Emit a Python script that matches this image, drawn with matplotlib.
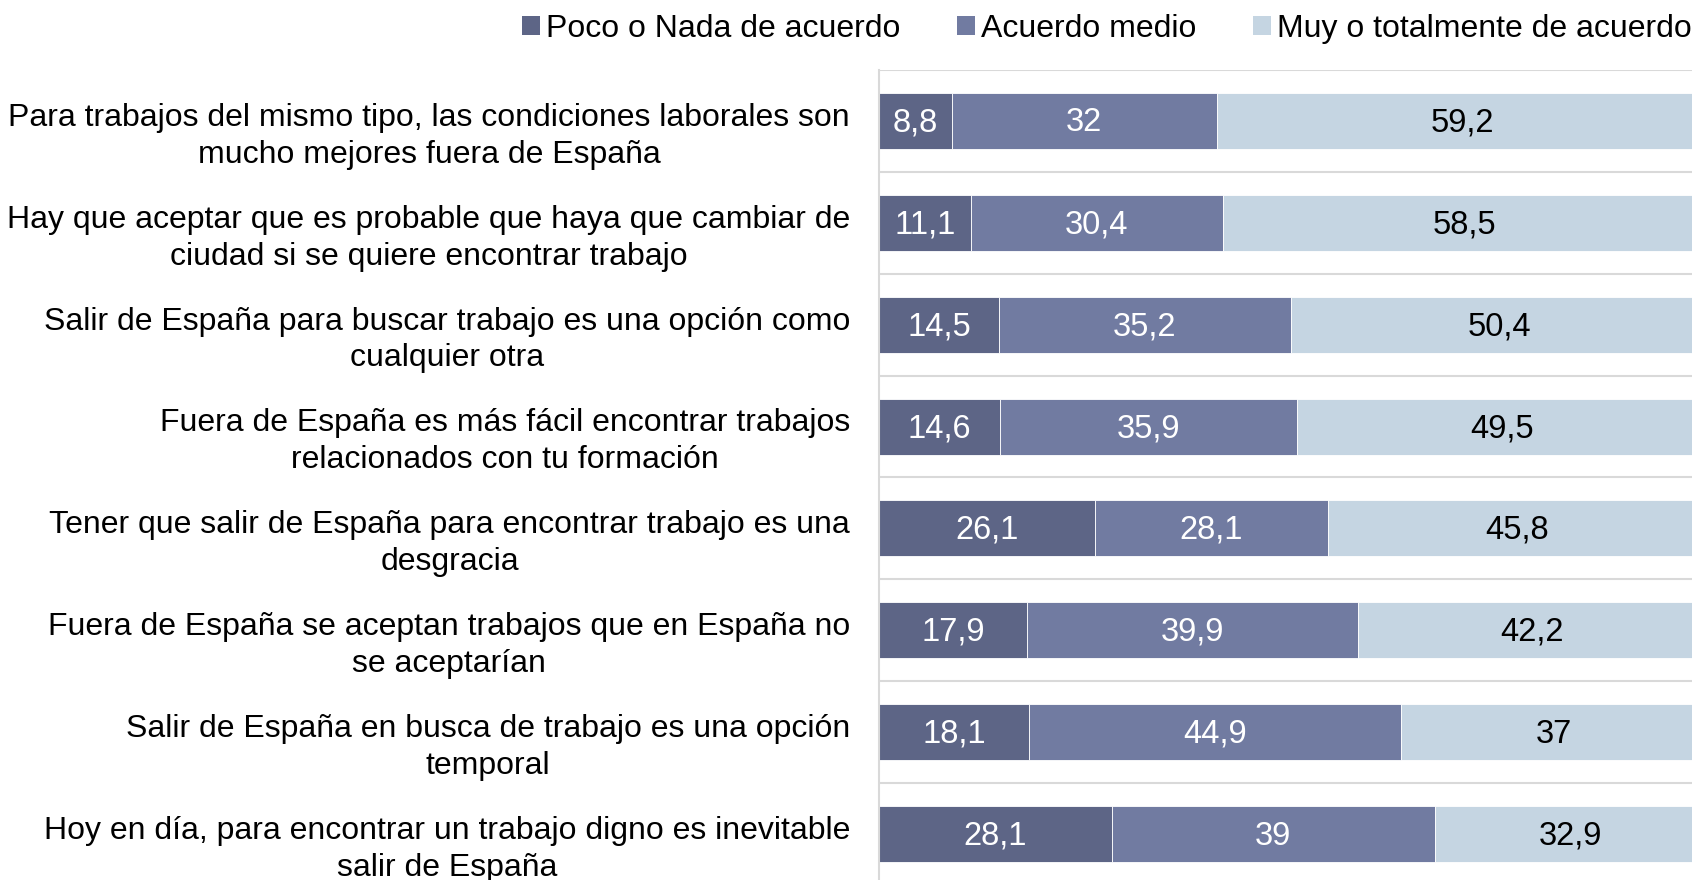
import numpy as np
import matplotlib.pyplot as plt
from matplotlib.patches import Patch

plt.rcParams['font.family'] = ['Liberation Sans', 'DejaVu Sans']

labels = [
    "Para trabajos del mismo tipo, las condiciones laborales son\nmucho mejores fuera de España",
    "Hay que aceptar que es probable que haya que cambiar de\nciudad si se quiere encontrar trabajo",
    "Salir de España para buscar trabajo es una opción como\ncualquier otra",
    "Fuera de España es más fácil encontrar trabajos\nrelacionados con tu formación",
    "Tener que salir de España para encontrar trabajo es una\ndesgracia",
    "Fuera de España se aceptan trabajos que en España no\nse aceptarían",
    "Salir de España en busca de trabajo es una opción\ntemporal",
    "Hoy en día, para encontrar un trabajo digno es inevitable\nsalir de España",
]
poco = [8.8, 11.1, 14.5, 14.6, 26.1, 17.9, 18.1, 28.1]
medio = [32, 30.4, 35.2, 35.9, 28.1, 39.9, 44.9, 39]
muy = [59.2, 58.5, 50.4, 49.5, 45.8, 42.2, 37, 32.9]

series = ["Poco o Nada de acuerdo", "Acuerdo medio", "Muy o totalmente de acuerdo"]
colors = ["#5d6586", "#717ba1", "#c5d5e2"]
text_colors = ["white", "white", "black"]

W, H = 1692, 880
fig = plt.figure(figsize=(W / 100, H / 100), dpi=100)
# axes: left 879 px, top 70 px, bottom 885 px, 100% at 1707 px (cut off on the right)
ax = fig.add_axes([879 / W, 1 - 885 / H, 828 / W, 815 / H])

y = np.arange(len(labels))
left = np.zeros(len(labels))
for vals, c, tc in zip([poco, medio, muy], colors, text_colors):
    vals = np.array(vals)
    ax.barh(y, vals, left=left, height=0.55, color=c, edgecolor='white', linewidth=0.6)
    for yi, l, v in zip(y, left, vals):
        txt = ("%g" % v).replace('.', ',')
        ax.text(l + v / 2, yi + 0.02, txt, ha='center', va='center', color=tc, fontsize=23.5)
    left = left + vals

ax.set_xlim(0, 100)
ax.set_ylim(len(labels) - 0.5, -0.5)

for b in np.arange(-0.5, len(labels), 1):
    ax.axhline(b, color='#d9d9d9', linewidth=1.5, zorder=0)

for s in ['top', 'right', 'bottom']:
    ax.spines[s].set_visible(False)
ax.spines['left'].set_color('#d9d9d9')
ax.spines['left'].set_linewidth(1.5)
ax.set_xticks([])
ax.set_yticks([])

for yi, lab in zip(y, labels):
    ax.text(-0.035, yi + 0.15, lab, transform=ax.get_yaxis_transform(), ha='right',
            va='center', multialignment='center', fontsize=23, linespacing=1.3)

handles = [Patch(facecolor=c, edgecolor='none') for c in colors]
fig.legend(handles, series, loc='center left', bbox_to_anchor=(522 / W, 1 - 29 / H),
           ncol=3, frameon=False, fontsize=23, handlelength=0.55, handleheight=0.55,
           handletextpad=0.2, columnspacing=1.78, borderaxespad=0, borderpad=0)

fig.savefig('out.png', dpi=100)
